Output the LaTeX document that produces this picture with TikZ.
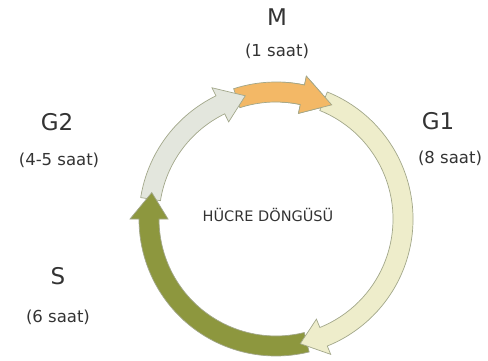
\documentclass[tikz,border=0pt]{standalone}
\usepackage{fontspec}
\setmainfont{DejaVu Sans}
\usetikzlibrary{positioning}
\definecolor{Ink}{HTML}{333333}
\definecolor{RingEdge}{HTML}{A2A78A}
\definecolor{MFill}{HTML}{F3B866}
\definecolor{GoneFill}{HTML}{EEEDCB}
\definecolor{SFill}{HTML}{8D973E}
\definecolor{GtwoFill}{HTML}{E3E6DD}
\tikzset{
  phase/.style={font=\fontsize{23}{26}\selectfont, text=Ink, inner sep=0pt},
  duration/.style={font=\fontsize{16.5}{18}\selectfont, text=Ink, inner sep=0pt},
  cycletitle/.style={font=\fontsize{14.5}{16}\selectfont, text=Ink, inner sep=0pt},
}
% curved ring arrow: fill, tail angle, head base angle, tip angle
\newcommand{\cyclearrow}[4]{%
  \filldraw[fill=#1, draw=RingEdge, line width=0.7pt]
    (#2:137) arc[start angle=#2, end angle=#3, radius=137]
    -- (#3:146) -- (#4:127) -- (#3:108) -- (#3:117)
    arc[start angle=#3, end angle=#2, radius=117] -- cycle;
}

\begin{document}
\begin{tikzpicture}[x=1pt, y=1pt]
  \useasboundingbox (0,0) rectangle (488,360);

  % The ring: each head lies over the tail of the next phase.
  \begin{scope}[shift={(276,141)}]
    \cyclearrow{MFill}{108}{78}{64}
    \cyclearrow{GtwoFill}{171}{116}{104}
    \cyclearrow{SFill}{284}{180}{168}
    \cyclearrow{GoneFill}{68}{-68}{-79}
    \begin{scope}
      \clip (0,0) -- (88:170) arc[start angle=88, end angle=55, radius=170] -- cycle;
      \cyclearrow{MFill}{108}{78}{64}
    \end{scope}
  \end{scope}

  \node[cycletitle] (title) at (268,145) {HÜCRE DÖNGÜSÜ};

  % Phase names with their durations.
  \node[phase] (mLabel) at (277,343) {M};
  \node[duration, below=18pt of mLabel] (mTime) {(1 saat)};
  \node[phase] (goneLabel) at (438,239) {G1};
  \node[duration, below=21pt of goneLabel, xshift=12pt] (goneTime) {(8 saat)};
  \node[phase] (gtwoLabel) at (57,238) {G2};
  \node[duration, below=22pt of gtwoLabel, xshift=2pt] (gtwoTime) {(4-5 saat)};
  \node[phase] (sLabel) at (58,84) {S};
  \node[duration, below=25pt of sLabel] (sTime) {(6 saat)};
\end{tikzpicture}
\end{document}
